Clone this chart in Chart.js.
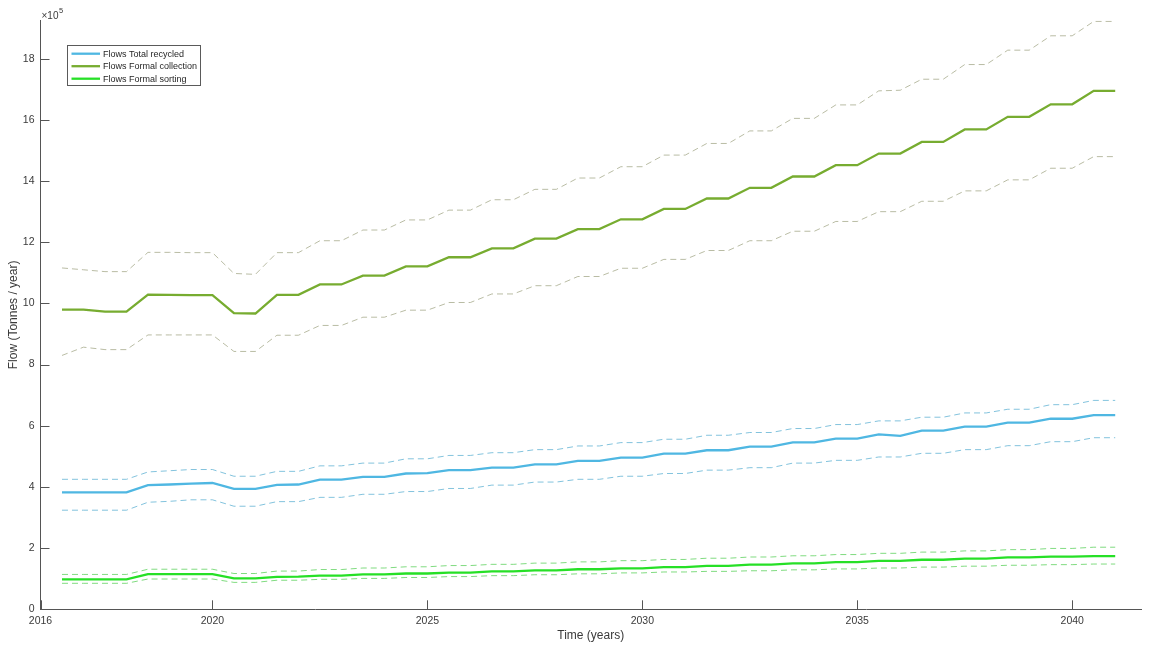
<!DOCTYPE html>
<html>
<head>
<meta charset="utf-8">
<script src="https://cdn.jsdelivr.net/npm/chart.js@4.4.1/dist/chart.umd.min.js"></script>
<style>
  html, body { margin: 0; padding: 0; background: #ffffff; }
  #wrap { width: 1154px; height: 646px; position: relative; }
</style>
</head>
<body>
<div id="wrap"><canvas id="c" width="1154" height="646"></canvas></div>
<script>
// ---- data (flows in units of 10^5 tonnes / year) ----
const times = [2016.5, 2017, 2017.5, 2018, 2018.5, 2019, 2019.5, 2020, 2020.5, 2021,
               2021.5, 2022, 2022.5, 2023, 2023.5, 2024, 2024.5, 2025, 2025.5, 2026,
               2026.5, 2027, 2027.5, 2028, 2028.5, 2029, 2029.5, 2030, 2030.5, 2031,
               2031.5, 2032, 2032.5, 2033, 2033.5, 2034, 2034.5, 2035, 2035.5, 2036,
               2036.5, 2037, 2037.5, 2038, 2038.5, 2039, 2039.5, 2040, 2040.5, 2041];

const recycledMean  = [3.82, 3.82, 3.82, 3.82, 4.06, 4.08, 4.11, 4.13, 3.94, 3.94,
                       4.07, 4.08, 4.24, 4.24, 4.33, 4.33, 4.44, 4.45, 4.55, 4.55,
                       4.63, 4.63, 4.74, 4.74, 4.85, 4.85, 4.96, 4.96, 5.09, 5.09,
                       5.20, 5.20, 5.32, 5.32, 5.46, 5.46, 5.58, 5.58, 5.72, 5.67,
                       5.84, 5.84, 5.97, 5.97, 6.10, 6.10, 6.23, 6.23, 6.35, 6.35];
const recycledUpper = [4.25, 4.25, 4.25, 4.25, 4.49, 4.53, 4.57, 4.57, 4.35, 4.35,
                       4.51, 4.51, 4.69, 4.69, 4.78, 4.78, 4.92, 4.92, 5.03, 5.03,
                       5.12, 5.12, 5.22, 5.22, 5.34, 5.34, 5.45, 5.45, 5.56, 5.56,
                       5.69, 5.69, 5.78, 5.78, 5.91, 5.91, 6.04, 6.04, 6.16, 6.16,
                       6.28, 6.28, 6.42, 6.42, 6.54, 6.54, 6.69, 6.69, 6.83, 6.83];
const recycledLower = [3.24, 3.24, 3.24, 3.24, 3.50, 3.53, 3.58, 3.58, 3.37, 3.37,
                       3.52, 3.52, 3.66, 3.66, 3.76, 3.76, 3.85, 3.85, 3.95, 3.95,
                       4.06, 4.06, 4.16, 4.16, 4.25, 4.25, 4.35, 4.35, 4.44, 4.44,
                       4.55, 4.55, 4.63, 4.63, 4.78, 4.78, 4.87, 4.87, 4.98, 4.98,
                       5.10, 5.10, 5.22, 5.22, 5.35, 5.35, 5.48, 5.48, 5.61, 5.61];

const collectionMean  = [9.80, 9.80, 9.73, 9.73, 10.29, 10.28, 10.27, 10.27, 9.68, 9.67,
                         10.28, 10.28, 10.62, 10.62, 10.91, 10.91, 11.21, 11.21, 11.51, 11.51,
                         11.80, 11.80, 12.12, 12.12, 12.43, 12.43, 12.75, 12.75, 13.09, 13.09,
                         13.43, 13.43, 13.78, 13.78, 14.15, 14.15, 14.52, 14.52, 14.90, 14.90,
                         15.28, 15.28, 15.69, 15.69, 16.10, 16.10, 16.51, 16.51, 16.95, 16.95];
const collectionUpper = [11.16, 11.10, 11.04, 11.04, 11.67, 11.67, 11.66, 11.66, 10.98, 10.95,
                         11.66, 11.66, 12.05, 12.05, 12.40, 12.40, 12.73, 12.73, 13.05, 13.05,
                         13.39, 13.39, 13.73, 13.73, 14.10, 14.10, 14.47, 14.47, 14.85, 14.85,
                         15.23, 15.23, 15.64, 15.64, 16.05, 16.05, 16.49, 16.49, 16.95, 16.97,
                         17.33, 17.33, 17.81, 17.81, 18.28, 18.28, 18.75, 18.75, 19.22, 19.22];
const collectionLower = [8.30, 8.57, 8.49, 8.49, 8.97, 8.97, 8.97, 8.97, 8.43, 8.43,
                         8.96, 8.96, 9.28, 9.28, 9.55, 9.55, 9.78, 9.78, 10.03, 10.03,
                         10.31, 10.31, 10.58, 10.58, 10.88, 10.88, 11.15, 11.15, 11.44, 11.44,
                         11.73, 11.73, 12.05, 12.05, 12.36, 12.36, 12.68, 12.68, 13.00, 13.00,
                         13.34, 13.34, 13.68, 13.68, 14.04, 14.04, 14.42, 14.42, 14.80, 14.80];

const sortingMean  = [0.98, 0.98, 0.98, 0.98, 1.15, 1.15, 1.15, 1.15, 1.01, 1.01,
                      1.06, 1.07, 1.10, 1.10, 1.14, 1.14, 1.17, 1.17, 1.20, 1.20,
                      1.24, 1.24, 1.27, 1.27, 1.31, 1.31, 1.34, 1.34, 1.38, 1.38,
                      1.42, 1.42, 1.46, 1.46, 1.50, 1.50, 1.54, 1.54, 1.58, 1.58,
                      1.62, 1.62, 1.66, 1.66, 1.70, 1.70, 1.72, 1.72, 1.74, 1.74];
const sortingUpper = [1.14, 1.14, 1.14, 1.14, 1.31, 1.31, 1.31, 1.31, 1.17, 1.17,
                      1.25, 1.25, 1.30, 1.30, 1.35, 1.35, 1.39, 1.39, 1.43, 1.43,
                      1.47, 1.47, 1.51, 1.51, 1.55, 1.55, 1.59, 1.59, 1.63, 1.63,
                      1.67, 1.67, 1.71, 1.71, 1.75, 1.75, 1.79, 1.79, 1.83, 1.83,
                      1.87, 1.87, 1.91, 1.91, 1.95, 1.95, 1.99, 1.99, 2.03, 2.03];
const sortingLower = [0.85, 0.85, 0.85, 0.85, 0.99, 0.99, 0.99, 0.99, 0.88, 0.88,
                      0.95, 0.95, 0.98, 0.98, 1.01, 1.01, 1.04, 1.04, 1.07, 1.07,
                      1.10, 1.10, 1.13, 1.13, 1.16, 1.16, 1.19, 1.19, 1.22, 1.22,
                      1.24, 1.24, 1.26, 1.26, 1.29, 1.29, 1.32, 1.32, 1.35, 1.35,
                      1.38, 1.38, 1.41, 1.41, 1.44, 1.44, 1.46, 1.46, 1.48, 1.48];

const seriesNames = ['Flows Total recycled', 'Flows Formal collection', 'Flows Formal sorting'];
const xTicks = [2016, 2020, 2025, 2030, 2035, 2040];
const yTicks = [0, 2, 4, 6, 8, 10, 12, 14, 16, 18];
const xTitle = 'Time (years)';
const yTitle = 'Flow (Tonnes / year)';
const yExponent = '5';

// ---- styling ----
const FONT = "'Liberation Sans', Arial, Helvetica, sans-serif";
const AXIS = '#555555';
const TEXT = '#3a3a3a';
const C_BLUE = '#4FB7E2', C_BLUE_D = 'rgba(90,175,210,0.75)';
const C_OLIVE = '#77AC30', C_OLIVE_D = 'rgba(155,160,125,0.7)';
const C_GREEN = '#26E026', C_GREEN_D = 'rgba(60,200,60,0.65)';

function pts(vals) { return times.map((t, i) => ({ x: t, y: vals[i] })); }
function mainDs(label, vals, color) {
  return { label, data: pts(vals), borderColor: color, backgroundColor: color, borderWidth: 2.3,
           pointRadius: 0, tension: 0, fill: false, inLegend: true };
}
function dashDs(label, vals, color) {
  return { label, data: pts(vals), borderColor: color, backgroundColor: color, borderWidth: 1,
           borderDash: [6, 4], pointRadius: 0, tension: 0, fill: false, inLegend: false };
}

const decor = {
  id: 'matlabDecor',
  afterDraw(chart) {
    const { ctx, chartArea: ca, scales: { x, y } } = chart;
    ctx.save();
    // inward tick marks
    ctx.strokeStyle = AXIS; ctx.lineWidth = 1; ctx.setLineDash([]);
    ctx.beginPath();
    x.ticks.forEach(t => {
      const px = Math.round(x.getPixelForValue(t.value)) + 0.5;
      ctx.moveTo(px, ca.bottom); ctx.lineTo(px, ca.bottom - 9);
    });
    y.ticks.forEach(t => {
      const py = Math.round(y.getPixelForValue(t.value)) + 0.5;
      ctx.moveTo(ca.left, py); ctx.lineTo(ca.left + 9, py);
    });
    ctx.stroke();

    // exponent label
    ctx.fillStyle = TEXT; ctx.textAlign = 'left'; ctx.textBaseline = 'alphabetic';
    ctx.font = `10px ${FONT}`;
    ctx.fillText('\u00d710', ca.left + 1, 19);
    const w = ctx.measureText('\u00d710').width;
    ctx.font = `7.5px ${FONT}`;
    ctx.fillText(yExponent, ca.left + 1 + w + 0.5, 13);

    // legend box
    const items = chart.data.datasets.filter(d => d.inLegend);
    const bx = 67.5, by = 45.5, bw = 133, bh = 40;
    ctx.fillStyle = '#ffffff';
    ctx.fillRect(bx, by, bw, bh);
    ctx.strokeStyle = '#5a5a5a'; ctx.lineWidth = 1;
    ctx.strokeRect(bx, by, bw, bh);
    ctx.font = `9px ${FONT}`; ctx.textBaseline = 'middle';
    items.forEach((d, i) => {
      const ly = 53.7 + i * 12.5;
      ctx.strokeStyle = d.borderColor; ctx.lineWidth = 2.3;
      ctx.beginPath(); ctx.moveTo(71.5, ly); ctx.lineTo(100, ly); ctx.stroke();
      ctx.fillStyle = '#262626';
      ctx.fillText(d.label, 103, ly + 0.5);
    });
    ctx.restore();
  }
};

new Chart(document.getElementById('c'), {
  type: 'line',
  data: {
    datasets: [
      mainDs(seriesNames[0], recycledMean, C_BLUE),
      dashDs(seriesNames[0] + ' upper', recycledUpper, C_BLUE_D),
      dashDs(seriesNames[0] + ' lower', recycledLower, C_BLUE_D),
      mainDs(seriesNames[1], collectionMean, C_OLIVE),
      dashDs(seriesNames[1] + ' upper', collectionUpper, C_OLIVE_D),
      dashDs(seriesNames[1] + ' lower', collectionLower, C_OLIVE_D),
      mainDs(seriesNames[2], sortingMean, C_GREEN),
      dashDs(seriesNames[2] + ' upper', sortingUpper, C_GREEN_D),
      dashDs(seriesNames[2] + ' lower', sortingLower, C_GREEN_D)
    ]
  },
  options: {
    responsive: false,
    animation: false,
    layout: { padding: { top: 20.5, right: 13, bottom: 0, left: 0 } },
    plugins: { legend: { display: false }, tooltip: { enabled: false } },
    scales: {
      x: {
        type: 'linear', min: 2016, max: 2041.6,
        afterBuildTicks: s => { s.ticks = xTicks.map(v => ({ value: v })); },
        afterFit: s => { s.height = 36.7; },
        grid: { display: false, drawTicks: false },
        border: { display: true, color: AXIS, width: 1 },
        ticks: { color: TEXT, font: { family: FONT, size: 10.5 }, padding: 6, maxRotation: 0, autoSkip: false,
                 callback: v => String(v) },
        title: { display: true, text: xTitle, color: TEXT, font: { family: FONT, size: 12 },
                 padding: { top: 0, bottom: 3 } }
      },
      y: {
        type: 'linear', min: 0, max: 19.25,
        afterBuildTicks: s => { s.ticks = yTicks.map(v => ({ value: v })); },
        afterFit: s => { s.width = 40.5; },
        grid: { display: false, drawTicks: false },
        border: { display: true, color: AXIS, width: 1 },
        ticks: { color: TEXT, font: { family: FONT, size: 10.5 }, padding: 6, autoSkip: false,
                 callback: v => String(v) },
        title: { display: true, text: yTitle, color: TEXT, font: { family: FONT, size: 12 },
                 padding: { top: 6, bottom: 0 } }
      }
    }
  },
  plugins: [decor]
});
</script>
</body>
</html>
